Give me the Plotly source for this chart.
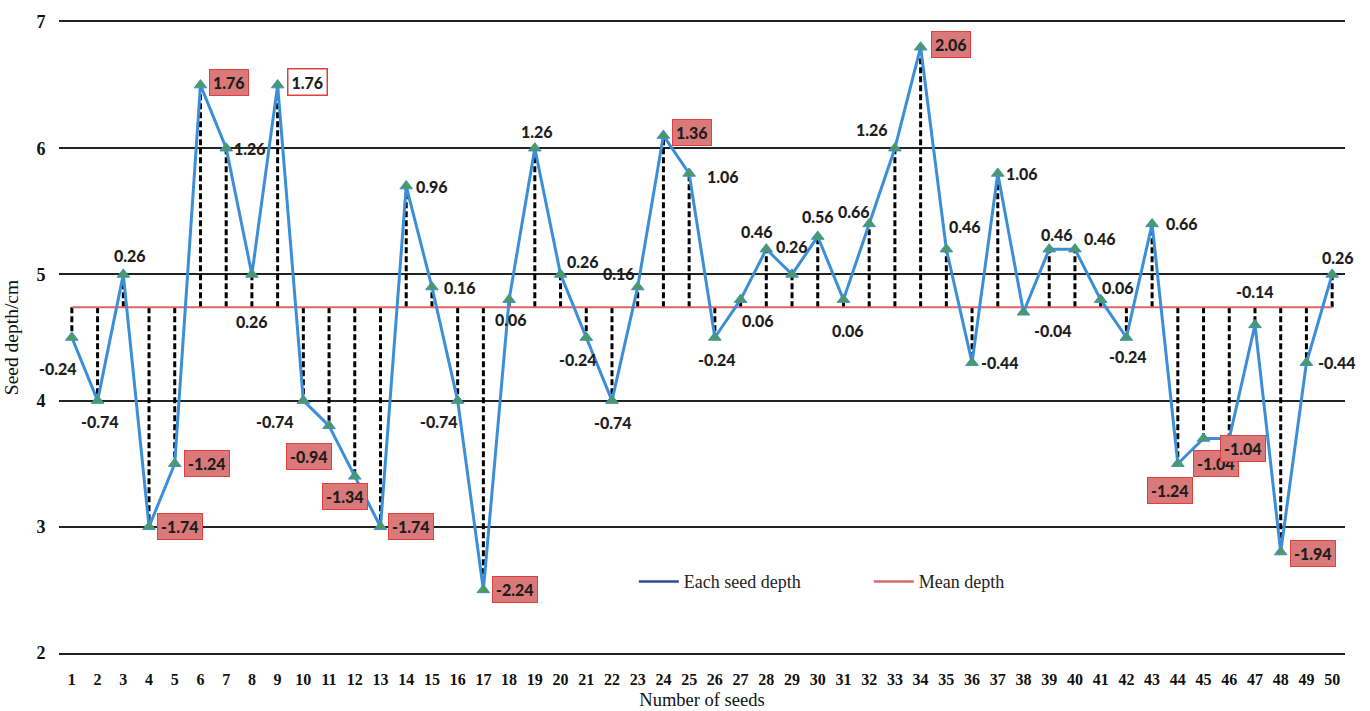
import plotly.graph_objects as go

# ---- data ----
seeds = list(range(1, 51))
depths = [4.5, 4.0, 5.0, 3.0, 3.5, 6.5, 6.0, 5.0, 6.5, 4.0,
          3.8, 3.4, 3.0, 5.7, 4.9, 4.0, 2.5, 4.8, 6.0, 5.0,
          4.5, 4.0, 4.9, 6.1, 5.8, 4.5, 4.8, 5.2, 5.0, 5.3,
          4.8, 5.4, 6.0, 6.8, 5.2, 4.3, 5.8, 4.7, 5.2, 5.2,
          4.8, 4.5, 5.4, 3.5, 3.7, 3.7, 4.6, 2.8, 4.3, 5.0]
mean_depth = 4.74
y_ticks = [2, 3, 4, 5, 6, 7]

# ---- label layout (pixel offsets from each point, and box style) ----
label_offsets = [(-14, 31), (2, 21), (7, -19), (31, 0), (32, 0), (29, -3), (24, 0), (0, 47), (30, -3), (-28, 21),
                 (-20, 31), (-10, 20), (30, 0), (26, 0), (28, 0), (-19, 21), (32, 0), (2, 20), (2, -17), (22, -13),
                 (-8, 22), (1, 22), (-19, -14), (29, -3), (34, 3), (2, 22), (17, 21), (-9, -18), (0, -28), (0, -20),
                 (5, 31), (-15, -12), (-23, -19), (30, -3), (19, -23), (28, 0), (24, 0), (29, 18), (8, -15), (25, -11),
                 (17, -12), (2, 19), (30, 0), (-8, 27), (12, 25), (14, 10), (0, -33), (32, 1), (31, 0), (6, -17)]
# 0 = plain, 1 = red filled box, 2 = white box with red border
label_box = [0, 0, 0, 1, 1, 1, 0, 0, 2, 0,
             1, 1, 1, 0, 0, 0, 1, 0, 0, 0,
             0, 0, 0, 1, 0, 0, 0, 0, 0, 0,
             0, 0, 0, 1, 0, 0, 0, 0, 0, 0,
             0, 0, 0, 1, 1, 1, 0, 1, 0, 0]

SERIF = "Liberation Serif, Times New Roman, serif"

fig = go.Figure()

# dashed droplines from mean to each point
dx, dy = [], []
for s, d in zip(seeds, depths):
    dx += [s, s, None]
    dy += [mean_depth, d, None]
fig.add_trace(go.Scatter(x=dx, y=dy, mode="lines", showlegend=False, hoverinfo="skip",
                         line=dict(color="black", width=3, dash="6px,3px")))

# mean line
fig.add_trace(go.Scatter(x=seeds, y=[mean_depth] * len(seeds), mode="lines", showlegend=False,
                         line=dict(color="#e06464", width=2)))

# each seed depth
fig.add_trace(go.Scatter(x=seeds, y=depths, mode="lines+markers", showlegend=False,
                         line=dict(color="#3c8fd6", width=3),
                         marker=dict(symbol="triangle-up", size=11, color="#4e9a5a",
                                     line=dict(color="#3c8fd6", width=1))))

# legend entries
fig.add_trace(go.Scatter(x=[None], y=[None], mode="lines", name="Each seed depth",
                         line=dict(color="#2c4f95", width=2.5)))
fig.add_trace(go.Scatter(x=[None], y=[None], mode="lines", name="Mean depth",
                         line=dict(color="#d96a6a", width=2.5)))

annotations = []
for s, d, (ox, oy), b in zip(seeds, depths, label_offsets, label_box):
    dev = round(d - mean_depth, 2)
    txt = f"{dev:.2f}"
    a = dict(x=s, y=d, xref="x", yref="y", text=txt, showarrow=False,
             xshift=ox, yshift=-oy,
             font=dict(family="Lato, Open Sans, sans-serif", size=16, color="#1e1e1e", weight=900))
    if b == 1:
        a.update(bgcolor="#d9797a", bordercolor="#e0403c", borderwidth=1, borderpad=3)
    elif b == 2:
        a.update(bgcolor="white", bordercolor="#e0403c", borderwidth=1.5, borderpad=3)
    annotations.append(a)

fig.update_layout(
    width=1370, height=711,
    margin=dict(l=59, r=25, t=22, b=58),
    paper_bgcolor="white", plot_bgcolor="white",
    showlegend=True,
    legend=dict(orientation="h", x=0.447, y=0.113, xanchor="left", yanchor="middle",
                font=dict(family=SERIF, size=18, color="#222"),
                bgcolor="rgba(0,0,0,0)", entrywidth=180, itemwidth=40),
    annotations=annotations,
    xaxis=dict(range=[0.5, 50.5], tickmode="array", tickvals=seeds, ticktext=[str(s) for s in seeds],
               showgrid=False, zeroline=False, showline=True, mirror=True, linecolor="#222", linewidth=2,
               ticks="outside", ticklen=11, tickcolor="rgba(0,0,0,0)", automargin=False,
               tickfont=dict(family=SERIF, size=16, color="#111", weight="bold"),
               title=dict(text="Number of seeds", standoff=6,
                          font=dict(family=SERIF, size=18.5, color="#111"))),
    yaxis=dict(range=[2, 7], tickmode="array", tickvals=y_ticks, ticktext=[str(t) for t in y_ticks],
               showgrid=True, gridcolor="#222", gridwidth=2, zeroline=False, showline=False,
               ticks="outside", ticklen=9, tickcolor="rgba(0,0,0,0)", automargin=False,
               tickfont=dict(family=SERIF, size=18, color="#111", weight="bold"),
               title=dict(text="Seed depth/cm", standoff=12,
                          font=dict(family=SERIF, size=19.5, color="#111"))),
)

fig.write_html("out.html", config={"displayModeBar": False},
               post_script="document.body.style.margin='0';")
